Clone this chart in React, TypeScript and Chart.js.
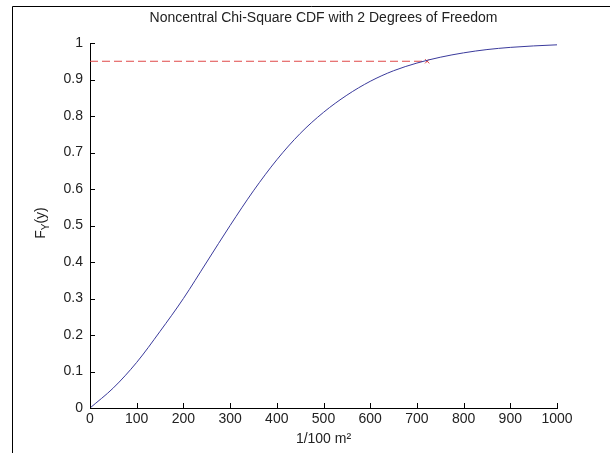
import React, { useEffect, useRef } from "react";
import { Chart, registerables } from "chart.js";

Chart.register(...registerables);

// CDF sample points (x in 1/100 m², y = F_Y(y))
const xValues = [0, 50, 100, 150, 200, 250, 300, 350, 400, 450, 500, 550, 600, 650, 700, 750, 800, 850, 900, 950, 1000];
const cdfValues = [0, 0.055, 0.125, 0.21, 0.3, 0.4, 0.5, 0.595, 0.68, 0.752, 0.81, 0.857, 0.895, 0.924, 0.945, 0.961, 0.973, 0.982, 0.988, 0.992, 0.995];

// 95% level and the point where the CDF crosses it
const levelValue = 0.95;
const crossingX = 722;
const levelX = [0, crossingX];

const titleText = "Noncentral Chi-Square CDF with 2 Degrees of Freedom";
const xTitle = "1/100 m\u00B2";

const FONT = "'Liberation Sans', Arial, Helvetica, sans-serif";
const TEXT_COLOR = "#222";

// Frame lines, inward tick marks and the F_Y(y) axis label
const decorations = {
  id: "decorations",
  beforeDraw(chart: any) {
    const ctx = chart.ctx;
    ctx.save();
    ctx.fillStyle = "#fff";
    ctx.fillRect(0, 0, chart.width, chart.height);
    ctx.strokeStyle = "#000";
    ctx.lineWidth = 1;
    ctx.beginPath();
    ctx.moveTo(12.5, chart.height);
    ctx.lineTo(12.5, 6.5);
    ctx.lineTo(chart.width, 6.5);
    ctx.stroke();
    ctx.restore();
  },
  afterDraw(chart: any) {
    const ctx = chart.ctx;
    const { left, bottom } = chart.chartArea;
    const xs = chart.scales.x;
    const ys = chart.scales.y;
    ctx.save();
    ctx.strokeStyle = "#000";
    ctx.lineWidth = 1;
    ctx.beginPath();
    xs.ticks.forEach((t: any) => {
      const px = Math.round(xs.getPixelForValue(t.value)) + 0.5;
      ctx.moveTo(px, bottom);
      ctx.lineTo(px, bottom - 5);
    });
    ys.ticks.forEach((t: any) => {
      const py = Math.round(ys.getPixelForValue(t.value)) + 0.5;
      ctx.moveTo(left, py);
      ctx.lineTo(left + 5, py);
    });
    ctx.stroke();

    // rotated y label with subscript
    ctx.translate(41, 223);
    ctx.rotate(-Math.PI / 2);
    ctx.fillStyle = TEXT_COLOR;
    ctx.textBaseline = "alphabetic";
    ctx.font = `14px ${FONT}`;
    const wF = ctx.measureText("F").width;
    ctx.font = `10px ${FONT}`;
    const wY = ctx.measureText("Y").width;
    ctx.font = `14px ${FONT}`;
    const wRest = ctx.measureText("(y)").width;
    const total = wF + wY + wRest;
    let x0 = -total / 2;
    ctx.fillText("F", x0, 4);
    x0 += wF;
    ctx.font = `10px ${FONT}`;
    ctx.fillText("Y", x0, 8);
    x0 += wY;
    ctx.font = `14px ${FONT}`;
    ctx.fillText("(y)", x0, 4);
    ctx.restore();
  },
};

export default function App() {
  const canvasRef = useRef<HTMLCanvasElement | null>(null);

  useEffect(() => {
    if (!canvasRef.current) return;
    const curve = xValues.map((x, i) => ({ x, y: cdfValues[i] }));
    const level = levelX.map((x) => ({ x, y: levelValue }));

    const chart = new Chart(canvasRef.current, {
      type: "line",
      data: {
        datasets: [
          {
            data: curve,
            borderColor: "#3a3a9c",
            borderWidth: 1,
            pointRadius: 0,
            cubicInterpolationMode: "monotone",
            fill: false,
          },
          {
            data: level,
            borderColor: "#e04848",
            borderWidth: 1,
            borderDash: [8, 4],
            pointStyle: "crossRot",
            pointRadius: [0, 3],
            pointBorderColor: "#e04848",
            pointBorderWidth: 1,
            fill: false,
          },
        ],
      },
      options: {
        responsive: false,
        animation: false,
        events: [],
        layout: { padding: { left: 0, right: 53, top: 0, bottom: 0 } },
        plugins: {
          legend: { display: false },
          tooltip: { enabled: false },
          title: {
            display: true,
            text: titleText,
            fullSize: false,
            color: TEXT_COLOR,
            font: { family: FONT, size: 14, weight: "normal", lineHeight: 1.2 },
            padding: { top: 10, bottom: 16.2 },
          },
        },
        scales: {
          x: {
            type: "linear",
            min: 0,
            max: 1000,
            ticks: {
              stepSize: 100,
              color: TEXT_COLOR,
              font: { family: FONT, size: 14 },
              padding: 3,
              maxRotation: 0,
              callback: (v: any) => String(v),
            },
            grid: { drawOnChartArea: false, drawTicks: false },
            border: { display: true, color: "#000", width: 1 },
            title: {
              display: true,
              text: xTitle,
              color: TEXT_COLOR,
              font: { family: FONT, size: 14 },
              padding: { top: 0, bottom: 5 },
            },
            afterFit(scale: any) {
              scale.height = 45;
            },
          },
          y: {
            type: "linear",
            min: 0,
            max: 1,
            ticks: {
              stepSize: 0.1,
              color: TEXT_COLOR,
              font: { family: FONT, size: 14 },
              padding: 7,
              callback: (v: any) => String(Math.round(Number(v) * 10) / 10),
            },
            grid: { drawOnChartArea: false, drawTicks: false },
            border: { display: true, color: "#000", width: 1 },
            afterFit(scale: any) {
              scale.width = 90;
            },
          },
        },
      },
      plugins: [decorations],
    } as any);

    return () => chart.destroy();
  }, []);

  return (
    <div style={{ position: "fixed", left: 0, top: 0, width: 610, height: 453, background: "#fff" }}>
      <canvas ref={canvasRef} width={610} height={453} style={{ width: 610, height: 453, display: "block" }} />
    </div>
  );
}
